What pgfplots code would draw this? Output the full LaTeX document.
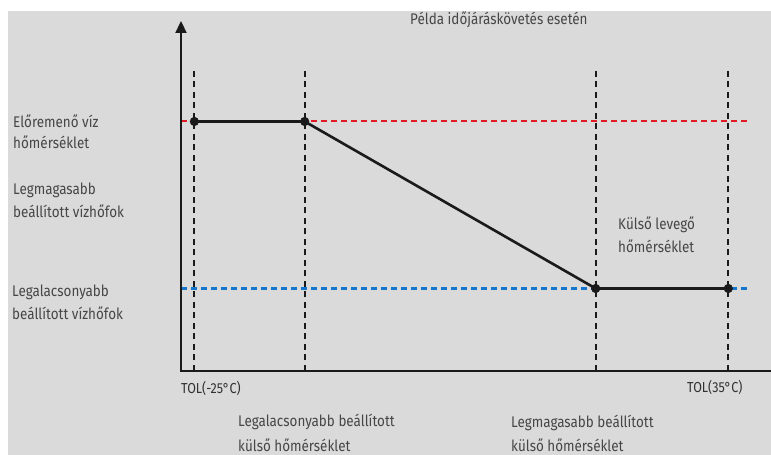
\documentclass[border=0pt]{standalone}
\usepackage{pgfplots}
\pgfplotsset{compat=1.18}
\usepackage{fontspec}
\setmainfont{Fira Sans}[FakeStretch=0.87]
\usetikzlibrary{arrows.meta}
\definecolor{bg}{RGB}{218,218,218}
\definecolor{txt}{RGB}{70,70,70}
\definecolor{ln}{RGB}{26,26,26}
\definecolor{limitred}{RGB}{225,25,35}
\definecolor{limitblue}{RGB}{20,118,205}
\begin{document}
\begin{tikzpicture}[x=1bp,y=1bp]
\useasboundingbox (0,0) rectangle (771,455);
\fill[bg] (8,0) rectangle (771,444);
\begin{scope}
\clip (0,0) rectangle (771,455);
\begin{axis}[
  at={(181bp,84bp)}, anchor=south west,
  scale only axis, width=590bp, height=349bp,
  xmin=-26.5, xmax=39.8, ymin=0, ymax=349,
  hide axis, clip=false]
% vertical dashed guides
\addplot[draw=ln, line width=2.1bp, dash pattern=on 6bp off 4.5bp] coordinates {(-25,0) (-25,301)};
\addplot[draw=ln, line width=1.9bp, dash pattern=on 6bp off 4.5bp] coordinates {(-12.6,0) (-12.6,301)};
\addplot[draw=ln, line width=2.1bp, dash pattern=on 6bp off 4.5bp] coordinates {(20.1,0) (20.1,301)};
\addplot[draw=ln, line width=1.9bp, dash pattern=on 6bp off 4.5bp] coordinates {(35,0) (35,301)};
% horizontal limits
\addplot[draw=limitred, line width=2bp, dash pattern=on 6bp off 4bp] coordinates {(-26.5,249.5) (37.3,249.5)};
\addplot[draw=limitblue, line width=2.2bp, dash pattern=on 6bp off 4bp] coordinates {(-26.5,82.5) (37.3,82.5)};
% heating curve
\addplot[draw=ln, line width=2.6bp, mark=*, mark size=4.3bp, mark options={fill=ln, draw=ln, line width=0.5bp, solid}]
  coordinates {(-25,249.5) (-12.6,249.5) (20.1,82.5) (35,82.5)};
\end{axis}
% axes
\draw[ln, line width=2.2bp, -{Triangle[length=12bp,width=11bp]}] (181,83) -- (181,434);
\draw[ln, line width=2.2bp, -{Triangle[length=12bp,width=11bp]}] (180,84) -- (783,84);
\end{scope}
% texts
\begin{scope}[every node/.style={text=txt, font=\fontsize{15.5}{18}\selectfont, inner sep=0pt}]
\node[anchor=west] at (410,435) {Példa időjáráskövetés esetén};
\node[anchor=west] at (13,334) {Előremenő víz};
\node[anchor=west] at (13,313) {hőmérséklet};
\node[anchor=west] at (13,265) {Legmagasabb};
\node[anchor=west] at (13,244) {beállított vízhőfok};
\node[anchor=west] at (12,163) {Legalacsonyabb};
\node[anchor=west] at (12,142) {beállított vízhőfok};
\node[anchor=west] at (618,230) {Külső levegő};
\node[anchor=west] at (618,209) {hőmérséklet};
\node[anchor=west, text=ln!90] at (181,67) {\fontsize{14.5}{16}\selectfont TOL(-25°C)};
\node[anchor=west, text=ln!90] at (687,68) {\fontsize{14.5}{16}\selectfont TOL(35°C)};
\node[anchor=west] at (238,33) {Legalacsonyabb beállított};
\node[anchor=west] at (238,10) {külső hőmérséklet};
\node[anchor=west] at (511,32) {Legmagasabb beállított};
\node[anchor=west] at (511,10) {külső hőmérséklet};
\end{scope}
\end{tikzpicture}
\end{document}
